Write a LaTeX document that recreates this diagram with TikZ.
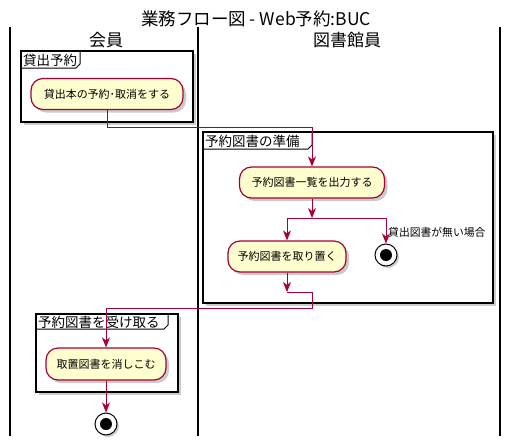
\documentclass[tikz,border=0pt]{standalone}
\usepackage{fontspec}
\setmainfont{Noto Sans CJK JP}
\usetikzlibrary{arrows.meta,shadows}
\definecolor{umlred}{HTML}{A80036}
\definecolor{umlfill}{HTML}{FEFECE}
\tikzset{
  act/.style={draw=umlred, line width=1.2pt, fill=umlfill, rounded corners=12pt,
    inner sep=0pt, font=\fontsize{11}{12}\selectfont,
    drop shadow={shadow xshift=3pt, shadow yshift=-3pt, fill=black!40, opacity=0.5}},
  flow/.style={draw=umlred, line width=1pt},
  flowarrow/.style={flow, -{Stealth[length=10pt,width=8pt,inset=3pt]}},
  lane/.style={line width=1.5pt, black},
  frame/.style={draw=black, line width=1.5pt, fill=white,
    drop shadow={shadow xshift=3pt, shadow yshift=-3pt, fill=black!40, opacity=0.5}},
  tabline/.style={line width=1pt, black},
  plabel/.style={anchor=west, inner sep=0pt, font=\fontsize{13.5}{14}\selectfont},
  stopnode/.style={circle, draw=black, line width=1pt, fill=white, minimum size=22pt, inner sep=0pt,
    drop shadow={shadow xshift=2pt, shadow yshift=-2pt, fill=black!40, opacity=0.5},
    path picture={\fill[black] (path picture bounding box.center) circle (6pt);}},
}
\begin{document}
\begin{tikzpicture}[x=1pt,y=-1pt]
\useasboundingbox (0,0) rectangle (512,445);
% title
\node[font=\fontsize{17.5}{18}\selectfont, inner sep=0pt] (title) at (256,19) {業務フロー図 - Web予約:BUC};
% swimlanes
\draw[lane] (10,27) -- (10,436);
\draw[lane] (198,27) -- (198,436);
\draw[lane] (500,27) -- (500,436);
\node[font=\fontsize{17}{18}\selectfont, inner sep=0pt] (h1) at (106,40) {会員};
\node[font=\fontsize{17}{18}\selectfont, inner sep=0pt] (h2) at (347,40) {図書館員};
% partition 1
\path[frame] (21,51) rectangle (193,122);
\draw[tabline] (21,68) -- (76,68) -- (80,64) -- (80,51);
\node[plabel] (p1) at (23,60) {貸出予約};
% partition 2
\path[frame] (203,132) rectangle (493,303);
\draw[tabline] (203,149) -- (308,149) -- (312,145) -- (312,132);
\node[plabel] (p2) at (205,141) {予約図書の準備};
% partition 3
\path[frame] (36,314) rectangle (178,392);
\draw[tabline] (36,329) -- (164,329) -- (168,325) -- (168,314);
\node[plabel] (p3) at (38,322) {予約図書を受け取る};
% activities
\node[act, minimum width=152pt, minimum height=31pt] (n1) at (107,94) {貸出本の予約･取消をする};
\node[act, minimum width=145pt, minimum height=31pt] (n2) at (312,182.5) {予約図書一覧を出力する};
\node[act, minimum width=118pt, minimum height=31pt] (n3) at (287,256.5) {予約図書を取り置く};
\node[act, minimum width=120pt, minimum height=32pt] (n4) at (106,364) {取置図書を消しこむ};
\node[stopnode] (s1) at (386,255) {};
\node[stopnode] (s2) at (106,424) {};
\node[anchor=west, inner sep=0pt, font=\fontsize{10.8}{11}\selectfont] (lbl) at (388,232) {貸出図書が無い場合};
% connectors
\coordinate (c1) at (107,127);
\draw[flowarrow] (n1.south) -- (c1) -| (n2.north);
\coordinate (f) at (312,218);
\coordinate (fl) at (287,218);
\coordinate (fr) at (386,218);
\draw[flowarrow] (n2.south) -- (f);
\draw[flow] (fl) -- (fr);
\draw[flowarrow] (fl) -- (n3.north);
\draw[flowarrow] (fr) -- (s1.north);
\coordinate (m1) at (287,292);
\coordinate (m2) at (312,292);
\coordinate (m3) at (312,308);
\coordinate (m4) at (106,308);
\draw[flowarrow] (n3.south) -- (m1);
\draw[flow] (m1) -- (m2) -- (m3) -- (m4);
\draw[flowarrow] (m4) -- (n4.north);
\draw[flowarrow] (n4.south) -- (s2.north);
\end{tikzpicture}
\end{document}
